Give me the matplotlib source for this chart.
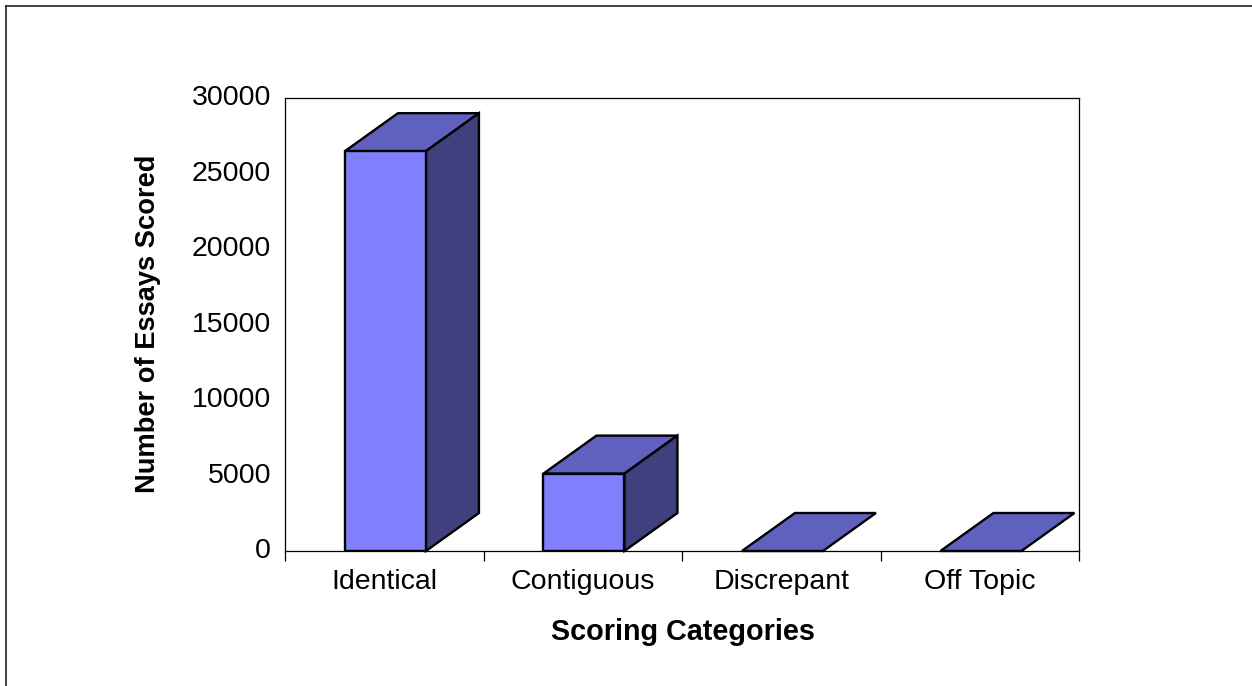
import matplotlib
matplotlib.use("Agg")
import matplotlib.pyplot as plt
from matplotlib.patches import Polygon
from matplotlib.lines import Line2D
from matplotlib.transforms import ScaledTranslation

categories = ["Identical", "Contiguous", "Discrepant", "Off Topic"]
values = [26450, 5120, 0, 0]
y_ticks = [0, 5000, 10000, 15000, 20000, 25000, 30000]

W, H = 1252, 686
L, R, T, B = 285.0, 1079.0, 97.5, 551.0
FRONT, TOP, SIDE = "#8080FF", "#6060BF", "#40407F"
BAR_W = 0.408
BAR_OFF = 0.006
DX = 53 / ((R - L) / 4)
DY = 38.0 / ((B - T) / 30000)
EDGE = 1.7

plt.rcParams["font.family"] = ["Liberation Sans", "DejaVu Sans"]
fig = plt.figure(figsize=(W / 100, H / 100), dpi=100, facecolor="white")
ax = fig.add_axes([L / W, 1 - B / H, (R - L) / W, (B - T) / H])
ax.set_xlim(0, 4)
ax.set_ylim(0, 30000)

for i, v in enumerate(values):
    x0 = i + 0.5 + BAR_OFF - BAR_W / 2
    x1 = x0 + BAR_W
    kw = dict(edgecolor="black", linewidth=EDGE, joinstyle="miter", clip_on=False, zorder=3)
    ax.add_patch(Polygon([(x0, v), (x1, v), (x1 + DX, v + DY), (x0 + DX, v + DY)], facecolor=TOP, **kw))
    if v > 0:
        ax.add_patch(Polygon([(x1, 0), (x1 + DX, DY), (x1 + DX, v + DY), (x1, v)], facecolor=SIDE, **kw))
        ax.bar(i + 0.5 + BAR_OFF, v, width=BAR_W, color=FRONT, edgecolor="black", linewidth=EDGE, zorder=4)

for s in ax.spines.values():
    s.set_linewidth(0.9)
    s.set_color("black")

ax.set_xticks(range(5))
ax.set_xticklabels([])
ax.set_xticks([i + 0.5 for i in range(4)], minor=True)
ax.set_xticklabels(categories, minor=True, fontsize=20.5)
ax.tick_params(axis="x", which="major", length=7, width=0.9, direction="out")
ax.tick_params(axis="x", which="minor", length=0, pad=13)
ax.set_yticks(y_ticks)
ax.set_yticklabels([str(t) for t in y_ticks], fontsize=20.5)
ax.tick_params(axis="y", length=0, pad=10)
shift_up = ScaledTranslation(0, 2.5 / 100, fig.dpi_scale_trans)
for lab in ax.get_yticklabels():
    lab.set_transform(lab.get_transform() + shift_up)

fig.text(683 / W, 1 - 632.5 / H, "Scoring Categories", fontsize=20.7, fontweight="bold", ha="center", va="center")
fig.text(148 / W, 1 - 323.5 / H, "Number of Essays Scored", fontsize=19.6, fontweight="bold", rotation=90, ha="center", va="center")

fig.add_artist(Line2D([6 / W, 6 / W], [0, 1 - 5.5 / H], color="#222222", lw=1.2))
fig.add_artist(Line2D([6 / W, 1], [1 - 5.5 / H, 1 - 5.5 / H], color="#222222", lw=1.2))

fig.savefig("out.png", dpi=100)
